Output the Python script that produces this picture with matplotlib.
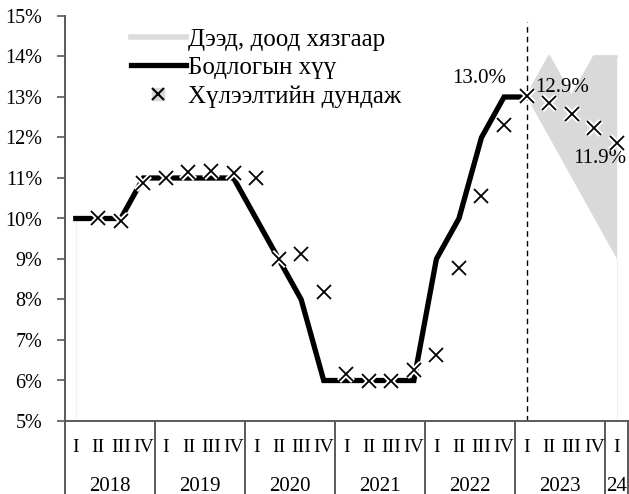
import matplotlib
matplotlib.use('Agg')
import matplotlib.pyplot as plt
from matplotlib.lines import Line2D
from matplotlib.legend_handler import HandlerTuple
import numpy as np

# ---- data ----
years = ['2018', '2019', '2020', '2021', '2022', '2023', '24']
quarter_names = ['I', 'II', 'III', 'IV']
quarters_per_year = [4, 4, 4, 4, 4, 4, 1]
policy_rate = [10, 10, 10, 11, 11, 11, 11, 11, 10, 9, 8, 6,
               6, 6, 6, 6, 9, 10, 12, 13, 13]
expected_avg = [np.nan, 10.0, 9.94, 10.87, 11.0, 11.15, 11.18, 11.12,
                11.0, 8.99, 9.12, 8.19, 6.16, 5.98, 5.98, 6.25,
                6.62, 8.79, 10.56, 12.31, 13.03, 12.86, 12.58, 12.23, 11.86]
band_lower = [13, 12, 11, 10, 9]
band_upper = [13, 14, 13, 14, 14]
band_start = 20
forecast_start = 20

plt.rcParams['font.family'] = ['Liberation Serif', 'DejaVu Serif']
FS = 14
W, H = 629, 494
fig = plt.figure(figsize=(W / 100, H / 100), dpi=100)
ax = fig.add_axes([64.5 / W, (H - 421) / H, 563.5 / W, 405 / H])

n = len(expected_avg)
x_all = np.arange(n)
axis_col = '#595959'

# band
xb = np.arange(band_start, band_start + len(band_lower))
ax.fill_between(xb, band_lower, band_upper, color='#d9d9d9', lw=0, zorder=1)
ax.plot(xb, band_upper, color='#d9d9d9', lw=2, solid_capstyle='round', zorder=1)
# faint area edges
ax.plot([0, 0], [5, policy_rate[0]], color='#f0f0f0', lw=0.8, zorder=0.5)
ax.plot([xb[-1], xb[-1]], [5, band_lower[-1]], color='#f0f0f0', lw=0.8, zorder=0.5)

# policy line
xp = np.arange(len(policy_rate))
ax.plot(xp, policy_rate, color='black', lw=3.8, solid_joinstyle='miter', zorder=3)

# expectation markers with white halo
ax.plot(x_all, expected_avg, ls='none', marker='x', ms=10, mew=4, color='white', zorder=4)
ax.plot(x_all, expected_avg, ls='none', marker='x', ms=10, mew=1.3, color='black', zorder=5)

# dashed forecast line
ax.plot([forecast_start, forecast_start], [5, 14.85], color='black', lw=1,
        dashes=(4, 3), zorder=2)

# data labels
LFS = 15
ax.annotate(f'{policy_rate[-1]:.1f}%', (len(policy_rate) - 1, policy_rate[-1]),
            xytext=(-34, 13), textcoords='offset points', ha='center', va='center',
            fontsize=LFS)
ax.annotate(f'{expected_avg[21]:.1f}%', (21, expected_avg[21]),
            xytext=(9, 11), textcoords='offset points', ha='center', va='center',
            fontsize=LFS)
ax.annotate(f'{expected_avg[24]:.1f}%', (24, expected_avg[24]),
            xytext=(-12, -11), textcoords='offset points', ha='center', va='center',
            fontsize=LFS)

ax.set_xlim(-0.5, n - 0.5)
ax.set_ylim(5, 15)
ax.set_yticks(range(5, 16))
ax.set_yticklabels([f'{v}%' for v in range(5, 16)], fontsize=FS + 0.5)
ax.tick_params(axis='y', length=6, width=1.2, color=axis_col, pad=10)
ax.tick_params(axis='x', length=0, labelbottom=False)
for s in ['top', 'right']:
    ax.spines[s].set_visible(False)
ax.spines['left'].set_color(axis_col)
ax.spines['left'].set_linewidth(1.4)
ax.spines['bottom'].set_color(axis_col)
ax.spines['bottom'].set_linewidth(1.4)

# category axis
trans = ax.get_xaxis_transform()
ybot = -73 / 405
pos = -0.5
ax.plot([-0.5, -0.5], [0, ybot], transform=trans, color=axis_col, lw=1.4, clip_on=False)
qi = 0
for yr, nq in zip(years, quarters_per_year):
    for k in range(nq):
        ax.text(qi, -26 / 405, quarter_names[k], transform=trans, ha='center', va='center',
                fontsize=FS)
        qi += 1
    ax.text(pos + nq / 2, -65 / 405, yr, transform=trans, ha='center', va='center',
            fontsize=FS + 1)
    pos += nq
    ax.plot([pos, pos], [0, ybot], transform=trans, color=axis_col, lw=1.4, clip_on=False)

# legend
h_band = Line2D([], [], color='#dcdcdc', lw=4)
h_pol = Line2D([], [], color='black', lw=3.8)
h_sq = Line2D([], [], ls='none', marker='s', ms=8, color='#d9d9d9')
h_x = Line2D([], [], ls='none', marker='x', ms=8, mew=1.5, color='black')
leg = fig.legend([h_band, h_pol, (h_sq, h_x)],
                 ['Дээд, доод хязгаар', 'Бодлогын хүү', 'Хүлээлтийн дундаж'],
                 handler_map={tuple: HandlerTuple(ndivide=1, pad=0)},
                 loc='upper left', bbox_to_anchor=(128 / W, 1 - 26 / H),
                 frameon=False, fontsize=18, handlelength=2.2, handletextpad=0.08,
                 labelspacing=0.23, borderaxespad=0, borderpad=0.1)

fig.savefig('out.png', dpi=100)
